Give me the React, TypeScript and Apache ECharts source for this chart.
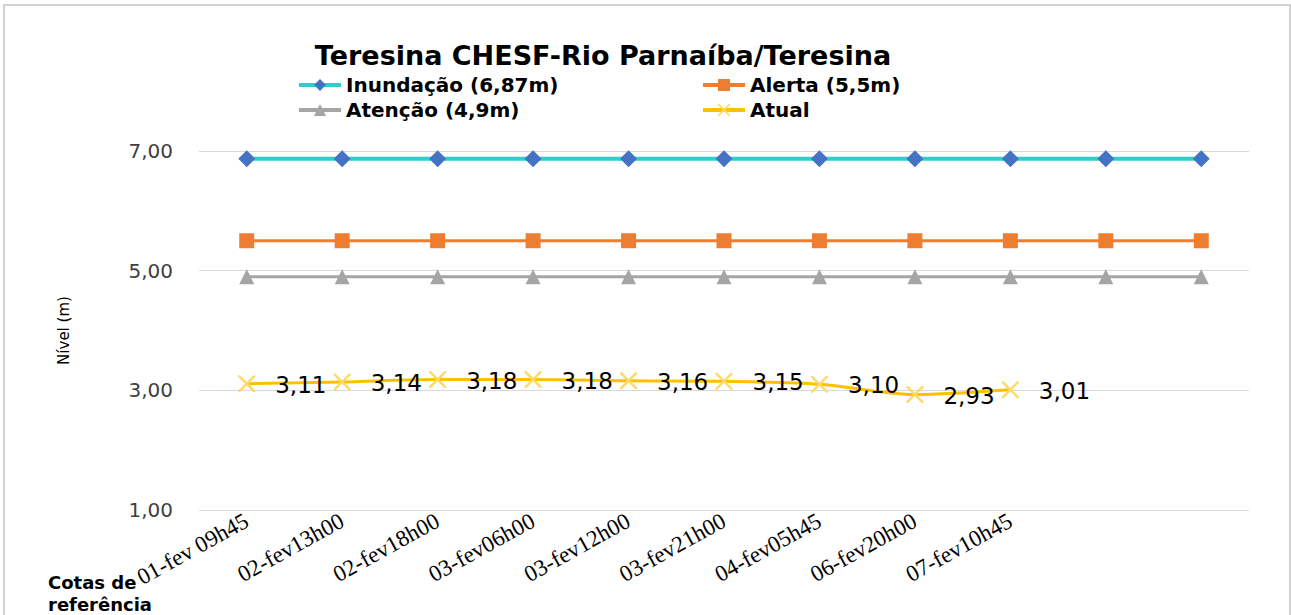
import React, { useEffect, useRef } from "react";
import * as echarts from "echarts";

const categories = [
  "01-fev 09h45",
  "02-fev13h00",
  "02-fev18h00",
  "03-fev06h00",
  "03-fev12h00",
  "03-fev21h00",
  "04-fev05h45",
  "06-fev20h00",
  "07-fev10h45",
  "",
  "",
];
const inundacao = [6.87, 6.87, 6.87, 6.87, 6.87, 6.87, 6.87, 6.87, 6.87, 6.87, 6.87];
const alerta = [5.5, 5.5, 5.5, 5.5, 5.5, 5.5, 5.5, 5.5, 5.5, 5.5, 5.5];
const atencao = [4.9, 4.9, 4.9, 4.9, 4.9, 4.9, 4.9, 4.9, 4.9, 4.9, 4.9];
const atual: (number | null)[] = [3.11, 3.14, 3.18, 3.18, 3.16, 3.15, 3.1, 2.93, 3.01, null, null];
const seriesNames = ["Inundação (6,87m)", "Alerta (5,5m)", "Atenção (4,9m)", "Atual"];

const SANS = "'DejaVu Sans', 'Noto Sans', sans-serif";
const X_PATH =
  "path://M0,0L1,0L5,4L9,0L10,0L10,1L6,5L10,9L10,10L9,10L5,6L1,10L0,10L0,9L4,5L0,1Z";

const fmt = (v: number) => v.toFixed(2).replace(".", ",");

export default function App() {
  const ref = useRef<HTMLDivElement>(null);
  useEffect(() => {
    if (!ref.current) return;
    const chart = echarts.init(ref.current, undefined, { renderer: "svg" });
    const legendText = { fontFamily: SANS, fontWeight: "bold" as const, fontSize: 20, color: "#000" };
    const legendBase = {
      itemWidth: 42,
      itemHeight: 15,
      itemGap: 5,
      textStyle: legendText,
      lineStyle: { width: 4 },
    };
    chart.setOption({
      animation: false,
      backgroundColor: "#fff",
      title: {
        text: "Teresina CHESF-Rio Parnaíba/Teresina",
        left: 598,
        top: 37,
        textAlign: "center",
        textStyle: { fontFamily: SANS, fontWeight: "bold", fontSize: 27, color: "#000" },
      },
      legend: [
        { ...legendBase, data: [seriesNames[0]], left: 292, top: 70 },
        { ...legendBase, data: [seriesNames[1]], left: 696, top: 70 },
        { ...legendBase, data: [seriesNames[2]], left: 292, top: 95 },
        { ...legendBase, data: [seriesNames[3]], left: 696, top: 95 },
      ],
      grid: { left: 199, right: 42, top: 151, bottom: 105, containLabel: false },
      xAxis: {
        type: "category",
        data: categories,
        boundaryGap: true,
        axisLine: { show: false },
        axisTick: { show: false },
        axisLabel: {
          interval: 0,
          rotate: 29,
          margin: 9,
          fontFamily: "'Liberation Serif', 'Times New Roman', serif",
          fontSize: 23,
          color: "#000",
        },
      },
      yAxis: {
        type: "value",
        min: 1,
        max: 7,
        interval: 2,
        name: "Nível (m)",
        nameLocation: "middle",
        nameGap: 128,
        nameRotate: 90,
        nameTextStyle: { fontFamily: SANS, fontSize: 15, color: "#000", padding: [0, 0, 0, 0] },
        axisLine: { show: false },
        axisTick: { show: false },
        axisLabel: {
          margin: 26,
          formatter: (v: number) => fmt(v),
          fontFamily: SANS,
          fontSize: 20,
          color: "#404040",
        },
        splitLine: { lineStyle: { color: "#d9d9d9", width: 1 } },
      },
      series: [
        {
          name: seriesNames[0],
          type: "line",
          data: inundacao,
          symbol: "diamond",
          symbolSize: 17,
          lineStyle: { color: "#33CCCC", width: 4 },
          itemStyle: { color: "#4472C4" },
        },
        {
          name: seriesNames[1],
          type: "line",
          data: alerta,
          symbol: "rect",
          symbolSize: 15,
          lineStyle: { color: "#ED7D31", width: 3 },
          itemStyle: { color: "#ED7D31" },
        },
        {
          name: seriesNames[2],
          type: "line",
          data: atencao,
          symbol: "triangle",
          symbolSize: 15,
          lineStyle: { color: "#A5A5A5", width: 3 },
          itemStyle: { color: "#A5A5A5" },
        },
        {
          name: seriesNames[3],
          type: "line",
          data: atual,
          smooth: 0.3,
          symbol: X_PATH,
          symbolSize: 17,
          lineStyle: { color: "#FFC000", width: 3 },
          itemStyle: { color: "#FFD966" },
          label: {
            show: true,
            position: "right",
            distance: 20,
            formatter: (p: any) => fmt(p.value),
            fontFamily: SANS,
            fontSize: 23,
            color: "#000",
            offset: [0, 1],
          },
        },
      ],
      graphic: [
        {
          type: "rect",
          shape: { x: 4, y: 5, width: 1286, height: 700 },
          style: { fill: "none", stroke: "#c4c4c4", lineWidth: 1.5 },
          silent: true,
        },
        {
          type: "text",
          left: 48,
          top: 571,
          style: {
            text: "Cotas de\nreferência",
            fontFamily: SANS,
            fontWeight: "bold",
            fontSize: 18,
            lineHeight: 22,
            fill: "#000",
          },
        },
      ],
    });
    return () => chart.dispose();
  }, []);
  return (
    <div
      ref={ref}
      style={{ position: "absolute", left: 0, top: 0, width: 1291, height: 615 }}
    />
  );
}
